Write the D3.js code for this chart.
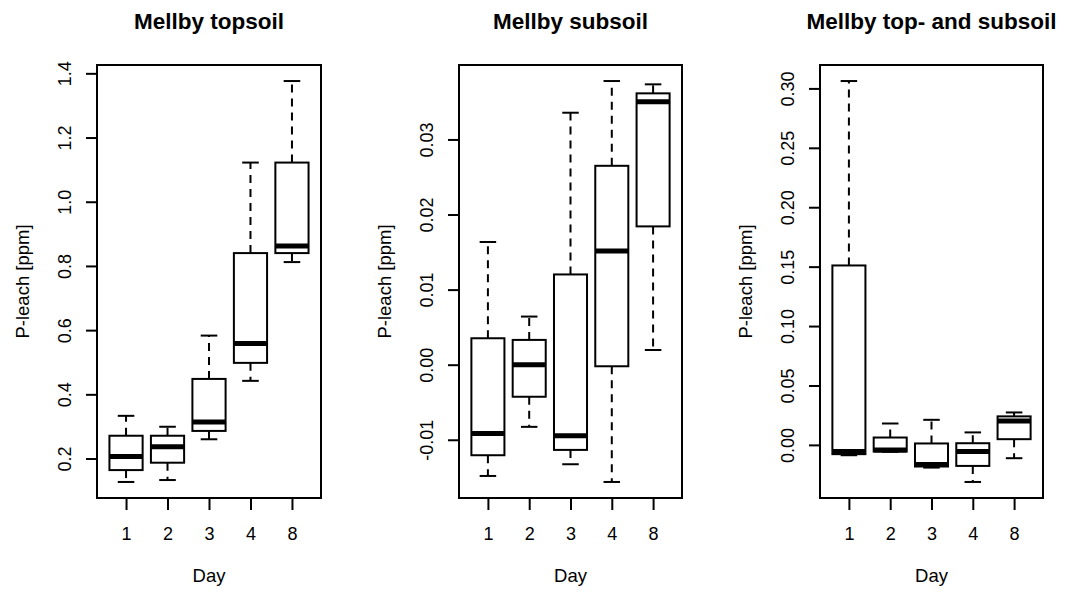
<!DOCTYPE html>
<html>
<head>
<meta charset="utf-8">
<script src="https://cdn.jsdelivr.net/npm/d3@7/dist/d3.min.js"></script>
<style>
  html, body { margin: 0; padding: 0; background: #fff; }
  svg { display: block; font-family: "Liberation Sans", Arial, sans-serif; }
</style>
</head>
<body>
<svg id="chart" width="1066" height="593"></svg>
<script>
// Sampling days (x categories)
const days = ["1", "2", "3", "4", "8"];

// Five-number summaries per day: [lower whisker, Q1, median, Q3, upper whisker]
const topsoil = [
  [0.127, 0.164, 0.206, 0.271, 0.333],
  [0.133, 0.187, 0.237, 0.271, 0.299],
  [0.260, 0.286, 0.314, 0.448, 0.583],
  [0.442, 0.498, 0.558, 0.840, 1.122],
  [0.812, 0.840, 0.862, 1.122, 1.376]
];
const subsoil = [
  [-0.01482, -0.01206, -0.00916, 0.00352, 0.01634],
  [-0.00828, -0.00427, 0.00000, 0.00330, 0.00641],
  [-0.01326, -0.01135, -0.00948, 0.01202, 0.03356],
  [-0.01562, -0.00021, 0.01514, 0.02649, 0.03778],
  [0.00196, 0.01842, 0.03503, 0.03614, 0.03734]
];
const combined = [
  [-0.0087, -0.0078, -0.0055, 0.1510, 0.3062],
  [-0.0058, -0.0056, -0.0044, 0.0062, 0.0180],
  [-0.0191, -0.0182, -0.0165, 0.0012, 0.0211],
  [-0.0312, -0.0177, -0.0056, 0.0014, 0.0105],
  [-0.0112, 0.0048, 0.0200, 0.0240, 0.0273]
];

// Y tick values and their labels
const topsoilTicks = [0.2, 0.4, 0.6, 0.8, 1.0, 1.2, 1.4];
const topsoilTickLabels = ["0.2", "0.4", "0.6", "0.8", "1.0", "1.2", "1.4"];
const subsoilTicks = [-0.01, 0.00, 0.01, 0.02, 0.03];
const subsoilTickLabels = ["-0.01", "0.00", "0.01", "0.02", "0.03"];
const combinedTicks = [0.00, 0.05, 0.10, 0.15, 0.20, 0.25, 0.30];
const combinedTickLabels = ["0.00", "0.05", "0.10", "0.15", "0.20", "0.25", "0.30"];

const titles = ["Mellby topsoil", "Mellby subsoil", "Mellby top- and subsoil"];
const yLabel = "P-leach [ppm]";
const xLabel = "Day";

const panels = [
  { title: titles[0], boxes: topsoil, ticks: topsoilTicks, labels: topsoilTickLabels, left: 97, right: 321 },
  { title: titles[1], boxes: subsoil, ticks: subsoilTicks, labels: subsoilTickLabels, left: 459, right: 682 },
  { title: titles[2], boxes: combined, ticks: combinedTicks, labels: combinedTickLabels, left: 820, right: 1043 }
];

const plotTop = 65, plotBottom = 498;
const tickFont = 18, labelFont = 18.5, titleFont = 22.5;
const svg = d3.select("#chart");

panels.forEach(p => {
  const g = svg.append("g");

  // Y domain: data range padded by 4% on each side
  const lo = d3.min(p.boxes, b => b[0]);
  const hi = d3.max(p.boxes, b => b[4]);
  const pad = (hi - lo) * 0.04;
  const y = d3.scaleLinear().domain([lo - pad, hi + pad]).range([plotBottom, plotTop]);

  // X: box positions 1..n, range 0.5..n+0.5 padded by 4%
  const n = days.length;
  const xpad = n * 0.04;
  const x = d3.scaleLinear().domain([0.5 - xpad, n + 0.5 + xpad]).range([p.left, p.right]);
  const halfW = x(1.4) - x(1);          // box half width (boxwex 0.8)
  const stapleHalf = halfW / 2;

  // Plot frame
  g.append("rect")
    .attr("x", p.left).attr("y", plotTop)
    .attr("width", p.right - p.left).attr("height", plotBottom - plotTop)
    .attr("fill", "none").attr("stroke", "#000").attr("stroke-width", 2);

  // Y axis
  const yAxis = d3.axisLeft(y)
    .tickValues(p.ticks)
    .tickFormat((d, i) => p.labels[i])
    .tickSizeOuter(0)
    .tickSizeInner(11);
  const ya = g.append("g").attr("transform", `translate(${p.left},0)`).call(yAxis);
  ya.select(".domain")
    .attr("d", `M0,${y(p.ticks[0])}V${y(p.ticks[p.ticks.length - 1])}`)
    .attr("stroke-width", 2);
  ya.selectAll(".tick line").attr("stroke-width", 2);
  ya.selectAll(".tick text")
    .attr("x", null).attr("dy", null)
    .attr("transform", "translate(-32,0) rotate(-90)")
    .attr("text-anchor", "middle")
    .attr("dominant-baseline", "central")
    .attr("font-size", tickFont)
    .attr("font-family", "Liberation Sans, Arial, sans-serif")
    .attr("fill", "#000");

  // X axis
  const xAxis = d3.axisBottom(x)
    .tickValues(d3.range(1, n + 1))
    .tickFormat((d, i) => days[i])
    .tickSizeOuter(0)
    .tickSizeInner(12);
  const xa = g.append("g").attr("transform", `translate(0,${plotBottom})`).call(xAxis);
  xa.select(".domain").attr("d", `M${x(1)},0H${x(n)}`).attr("stroke-width", 2);
  xa.selectAll(".tick line").attr("stroke-width", 2);
  xa.selectAll(".tick text")
    .attr("y", 42).attr("dy", null)
    .attr("font-size", tickFont)
    .attr("font-family", "Liberation Sans, Arial, sans-serif")
    .attr("fill", "#000");

  // Boxes
  p.boxes.forEach((b, i) => {
    const cx = x(i + 1);
    const [wLo, q1, med, q3, wHi] = b;
    const bg = g.append("g");
    // Whiskers
    bg.append("line").attr("x1", cx).attr("x2", cx).attr("y1", y(q3)).attr("y2", y(wHi))
      .attr("stroke", "#000").attr("stroke-width", 2).attr("stroke-dasharray", "8,6");
    bg.append("line").attr("x1", cx).attr("x2", cx).attr("y1", y(q1)).attr("y2", y(wLo))
      .attr("stroke", "#000").attr("stroke-width", 2).attr("stroke-dasharray", "8,6");
    // Staples
    [wLo, wHi].forEach(v => {
      bg.append("line").attr("x1", cx - stapleHalf).attr("x2", cx + stapleHalf)
        .attr("y1", y(v)).attr("y2", y(v))
        .attr("stroke", "#000").attr("stroke-width", 2);
    });
    // Box
    bg.append("rect")
      .attr("x", cx - halfW).attr("y", y(q3))
      .attr("width", 2 * halfW).attr("height", Math.max(0, y(q1) - y(q3)))
      .attr("fill", "#fff").attr("stroke", "#000").attr("stroke-width", 2);
    // Median
    bg.append("line").attr("x1", cx - halfW).attr("x2", cx + halfW)
      .attr("y1", y(med)).attr("y2", y(med))
      .attr("stroke", "#000").attr("stroke-width", 5);
  });

  const cxPlot = (p.left + p.right) / 2;
  // Title
  g.append("text")
    .attr("x", cxPlot).attr("y", 29)
    .attr("text-anchor", "middle")
    .attr("font-size", titleFont).attr("font-weight", "bold")
    .text(p.title);
  // Axis labels
  g.append("text")
    .attr("x", cxPlot).attr("y", 582)
    .attr("text-anchor", "middle")
    .attr("font-size", labelFont)
    .text(xLabel);
  g.append("text")
    .attr("transform", `translate(${p.left - 75},${(plotTop + plotBottom) / 2}) rotate(-90)`)
    .attr("text-anchor", "middle")
    .attr("dominant-baseline", "central")
    .attr("font-size", labelFont)
    .text(yLabel);
});
</script>
</body>
</html>
